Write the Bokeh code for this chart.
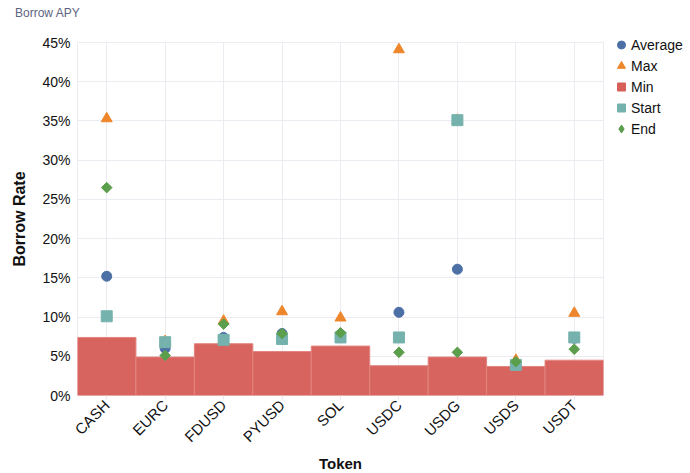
from bokeh.plotting import figure
from bokeh.models import Legend, LegendItem, PrintfTickFormatter, FixedTicker, Range1d, Div
from bokeh.layouts import column
from bokeh.embed import file_html
from bokeh.resources import INLINE
import math

tokens = ["CASH", "EURC", "FDUSD", "PYUSD", "SOL", "USDC", "USDG", "USDS", "USDT"]
avg_rate = [15.2, 6.0, 7.4, 7.9, 7.8, 10.6, 16.1, 4.0, 7.3]
max_rate = [35.3, 6.9, 9.5, 10.7, 9.9, 44.1, 35.1, 4.5, 10.5]
min_rate = [7.4, 4.9, 6.6, 5.6, 6.3, 3.8, 4.9, 3.7, 4.5]
start_rate = [10.1, 6.8, 7.1, 7.2, 7.4, 7.4, 35.1, 3.9, 7.4]
end_rate = [26.5, 5.1, 9.1, 7.9, 8.0, 5.5, 5.5, 4.3, 5.9]
y_ticks = [0, 5, 10, 15, 20, 25, 30, 35, 40, 45]

FONT = "Liberation Sans"
C_AVG, C_MAX, C_MIN, C_START, C_END = "#4c6fa6", "#ee862c", "#d65f5a", "#76b2ad", "#5b9e4c"

title = Div(text="Borrow APY", width=682, height=28, margin=0,
            styles={"font-family": FONT, "font-size": "12px", "color": "#5d6480",
                    "padding-left": "15px", "padding-top": "5px", "line-height": "16px"})

p = figure(x_range=tokens, y_range=Range1d(0, 45), frame_width=526, frame_height=353,
           min_border_left=77, min_border_right=79, min_border_top=14, min_border_bottom=68,
           output_backend="svg", toolbar_location=None)

r_min = p.vbar(x=tokens, top=min_rate, bottom=0, width=1.0, fill_color=C_MIN, fill_alpha=0.97,
               line_color="#e3847f", line_width=1)
r_avg = p.scatter(x=tokens, y=avg_rate, marker="circle", size=10, fill_color=C_AVG, line_color=C_AVG)
r_max = p.scatter(x=tokens, y=max_rate, marker="triangle", size=11, fill_color=C_MAX, line_color=C_MAX)
r_start = p.scatter(x=tokens, y=start_rate, marker="square", size=11, fill_color=C_START, line_color=C_START)
r_end = p.scatter(x=tokens, y=end_rate, marker="square", angle=math.pi / 4, size=7.5,
                  fill_color=C_END, line_color=C_END)
# zero-size markers used only as legend swatches
k_min = p.scatter(x=tokens, y=min_rate, marker="square", size=0, fill_color=C_MIN, line_color=C_MIN)
k_end = p.scatter(x=tokens, y=end_rate, marker="diamond", size=0, fill_color=C_END, line_color=C_END)

legend = Legend(items=[LegendItem(label="Average", renderers=[r_avg]),
                       LegendItem(label="Max", renderers=[r_max]),
                       LegendItem(label="Min", renderers=[k_min]),
                       LegendItem(label="Start", renderers=[r_start]),
                       LegendItem(label="End", renderers=[k_end])],
                location=(8, 256), padding=0, margin=0, spacing=0,
                glyph_width=20, glyph_height=21, label_height=21, label_standoff=-7,
                label_text_font=FONT, label_text_font_size="14px", label_text_color="#111111",
                border_line_color=None, background_fill_alpha=0)
p.add_layout(legend, "right")

p.yaxis.ticker = FixedTicker(ticks=y_ticks)
p.yaxis.formatter = PrintfTickFormatter(format="%d%%")
p.yaxis.axis_label = "Borrow Rate"
p.xaxis.axis_label = "Token"
for ax in (p.xaxis, p.yaxis):
    ax.axis_label_text_font = FONT
    ax.axis_label_text_font_style = "bold"
    ax.axis_label_text_font_size = "15px"
    ax.axis_label_text_color = "#111111"
    ax.major_label_text_font = FONT
    ax.major_label_text_font_size = "14px"
    ax.major_label_text_color = "#111111"
    ax.axis_line_color = None
    ax.minor_tick_line_color = None
    ax.major_tick_line_color = "#e6e7ee"
    ax.major_tick_in = 0
p.yaxis.axis_label_text_font_size = "16px"
p.xaxis.major_label_text_font_size = "15px"
p.yaxis.major_tick_out = 0
p.yaxis.major_label_standoff = 7
p.yaxis.axis_label_standoff = 11
p.xaxis.major_tick_out = 4
p.xaxis.major_label_orientation = math.pi / 4
p.xaxis.major_label_standoff = 3
p.xaxis.axis_label_standoff = 1

p.xgrid.grid_line_color = "#ebecf2"
p.ygrid.grid_line_color = "#ebecf2"
p.outline_line_color = "#ebecf2"
p.x_range.range_padding = 0

layout = column(title, p, spacing=0)
open("out.html", "w").write(file_html(layout, INLINE))
